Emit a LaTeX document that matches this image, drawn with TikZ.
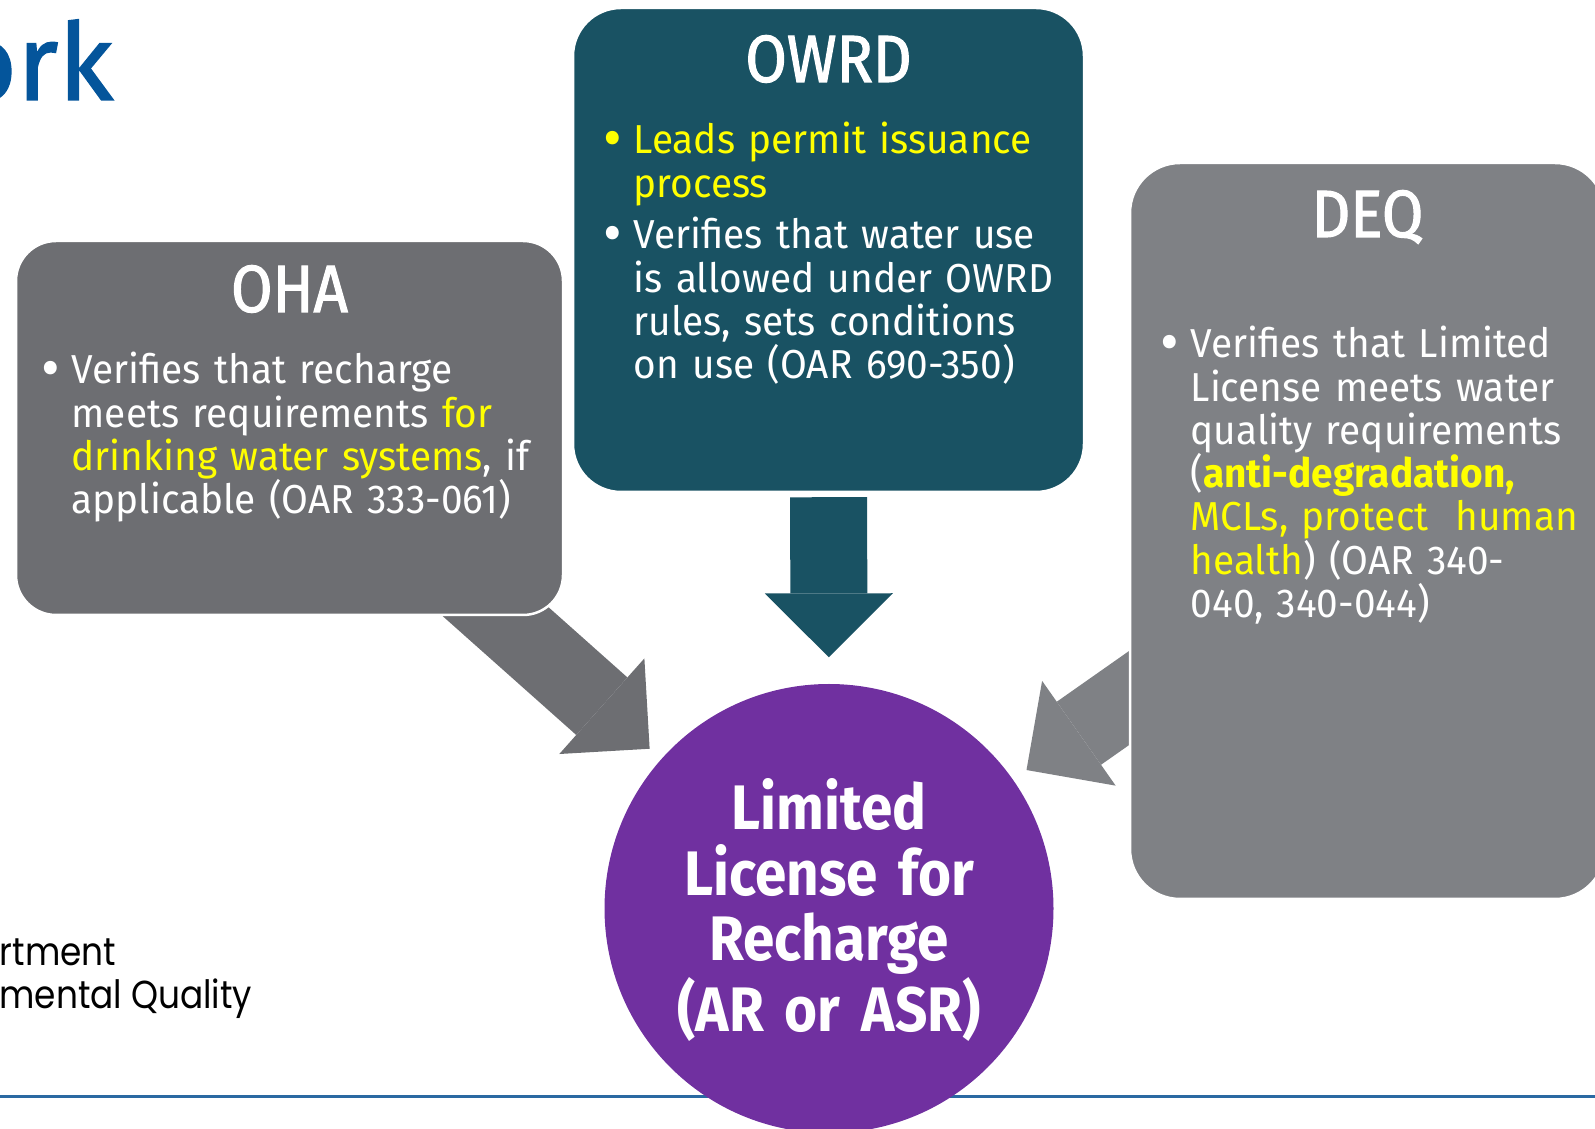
\documentclass[tikz,border=0pt]{standalone}
\usepackage{fontspec}
\setmainfont{Fira Sans}[FakeStretch=0.96]
\newfontfamily\headfont{Fira Sans}[FakeStretch=0.9]
\newfontfamily\titlefont{Fira Sans}[FakeStretch=0.9, FakeBold=1.6]
\newfontfamily\bannerfont{Fira Sans}[FakeBold=1.3]
\newfontfamily\deptfont{Poppins}[FakeStretch=0.88]
\usetikzlibrary{arrows.meta,backgrounds}

\definecolor{ohagray}{HTML}{6D6E72}
\definecolor{deqgray}{HTML}{7F8185}
\definecolor{owrdteal}{HTML}{195263}
\definecolor{licpurple}{HTML}{7030A0}
\definecolor{hlyellow}{HTML}{FFFF00}
\definecolor{titleblue}{HTML}{04559B}
\definecolor{ruleblue}{HTML}{2A69A2}

\newcommand{\hl}[1]{\textcolor{hlyellow}{#1}}
\newcommand{\bitem}[2][white]{\noindent\hangindent=3mm\hangafter=1
    \makebox[3mm][l]{\raisebox{-0.45mm}{\fontsize{17}{12}\selectfont\textcolor{#1}{\textbullet}}}#2\par}

\tikzset{
    agency/.style={rectangle, draw=white, line width=0.25mm, inner sep=0pt},
    heading/.style={anchor=base, inner sep=0pt, text=white,
        font=\titlefont\fontsize{19}{19}\selectfont},
    bullets/.style={anchor=base west, inner sep=0pt, text=white, align=left,
        font=\fontsize{11.5}{12.3}\selectfont},
    bigarrow/.style={line width=7.7mm,
        -{Triangle[length=6.4mm, width=12.8mm, line width=0pt]}},
}

\begin{document}
\begin{tikzpicture}[x=0.1mm, y=-0.1mm]
    \useasboundingbox (0,0) rectangle (1595,1129);
    \node[anchor=base east, inner sep=0pt, text=titleblue,
        font=\bannerfont\fontsize{30.5}{30.5}\selectfont] (pagetitle) at (114,100) {ork};
    \node[anchor=base east, inner sep=0pt, font=\deptfont\fontsize{11.1}{11.1}\selectfont]
        (deptA) at (117,966) {rtment};
    \node[anchor=base east, inner sep=0pt, font=\deptfont\fontsize{11.1}{11.1}\selectfont]
        (deptB) at (253,1009) {mental Quality};

    % the three agencies
    \node[agency, fill=ohagray, rounded corners=4mm, minimum width=54.7mm,
        minimum height=37.4mm] (oha) at (289.5,428) {};
    \node[agency, fill=owrdteal, rounded corners=4.8mm, minimum width=51.1mm,
        minimum height=48.4mm] (owrd) at (828.5,250) {};
    \node[agency, fill=deqgray, rounded corners=5mm, minimum width=47.5mm,
        minimum height=73.6mm] (deq) at (1367.5,531) {};

    \node[heading] (ohatitle) at (289.5,312) {OHA};
    \node[heading] (owrdtitle) at (828.5,82) {OWRD};
    \node[heading] (deqtitle) at (1367.5,237) {DEQ};

    \node[bullets, text width=50mm] (ohatext) at (41,384) {%
        \bitem{Verifies that recharge\newline meets requirements \hl{for}\newline
        \hl{drinking water systems}, if\newline applicable (OAR 333-061)}};
    \node[bullets, text width=46mm] (owrdtext) at (603,154) {%
        \bitem[hlyellow]{\hl{Leads permit issuance\newline process}}\vspace{2.4pt}
        \bitem{Verifies that water use\newline is allowed under OWRD\newline
        rules, sets conditions\newline on use (OAR 690-350)}};
    \node[bullets, text width=43mm] (deqtext) at (1160,358) {%
        \bitem{Verifies that Limited\newline License meets water\newline
        quality requirements\newline (\hl{\textbf{anti-degradation,}}\newline
        \hl{MCLs, protect\ \ human}\newline \hl{health}) (OAR 340-\newline
        040, 340-044)}};

    % the licence in the middle
    \node[circle, fill=licpurple, minimum size=44.9mm, inner sep=0pt] (lic) at (829,908.5) {};
    \node[anchor=base, text width=40mm, align=center, inner sep=0pt, text=white,
        font=\headfont\bfseries\fontsize{17.9}{18.5}\selectfont] (lictext) at (829,830)
        {Limited\\ License for\\ Recharge\\ (AR or ASR)};

    \begin{scope}[on background layer]
        \draw[ruleblue, line width=0.3mm] (0,1096.5) -- (1595,1096.5);
        \draw[bigarrow, ohagray, shorten <=-6mm, shorten >=1.5mm] (oha) -- (lic);
        \draw[bigarrow, owrdteal, shorten <=0.4mm, shorten >=2.6mm] (owrd) -- (lic);
        \draw[bigarrow, deqgray, shorten <=-6mm, shorten >=1.6mm] (deq) -- (lic);
    \end{scope}
\end{tikzpicture}
\end{document}
